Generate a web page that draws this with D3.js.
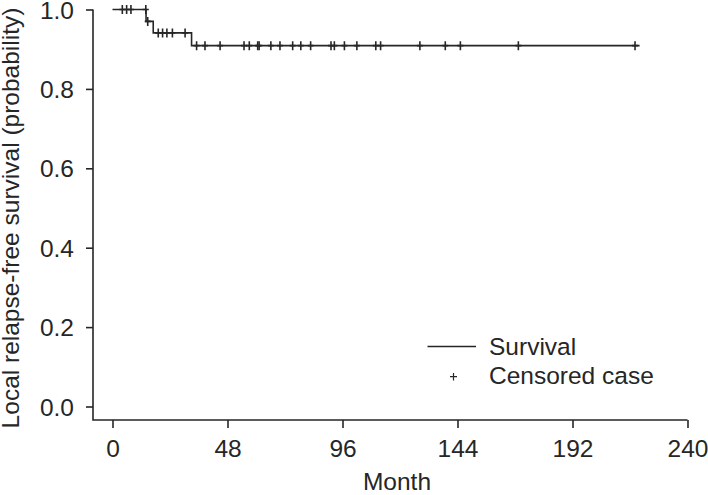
<!DOCTYPE html>
<html>
<head>
<meta charset="utf-8">
<script src="https://cdn.jsdelivr.net/npm/d3@7"></script>
<style>
  html, body { margin: 0; padding: 0; background: #fff; }
  svg { display: block; }
  text { font-family: "Liberation Sans", Arial, Helvetica, sans-serif; fill: #262626; }
</style>
</head>
<body>
<svg id="chart" width="708" height="495"></svg>
<script>
// ---- data ----
const xTicks = [0, 48, 96, 144, 192, 240];
const yTicks = [0.0, 0.2, 0.4, 0.6, 0.8, 1.0];
// survival step function: [month, survival after this time]
const stepTimes = [0, 14.0, 17.0, 33.0];
const stepValues = [1.0, 0.970, 0.941, 0.909];
const lastTime = 220.0;
// censored cases (month)
const censoredTimes = [4.1, 5.9, 7.7, 13.9, 14.7,
  19.1, 20.9, 22.7, 25.0, 30.3,
  35.1, 38.6, 44.9, 54.9, 57.1, 60.6, 61.2, 66.1, 69.9, 75.2, 78.6, 82.7,
  91.2, 92.6, 96.8, 102.0, 109.9, 111.9, 128.3, 138.9, 145.2, 169.4, 218.1];
const xLabel = "Month";
const yLabel = "Local relapse-free survival (probability)";
const legendLabels = ["Survival", "Censored case"];

// ---- layout ----
const svg = d3.select("#chart");
const ink = "#262626";
const fontSize = 24.5;
const axisX0 = 93;      // vertical axis position
const axisY0 = 420;     // horizontal axis position

const x = d3.scaleLinear().domain([0, 240]).range([112.5, 687.5]);
const y = d3.scaleLinear().domain([0, 1]).range([406.5, 9.5]);

// survival value at time t
function survAt(t) {
  let s = stepValues[0];
  for (let i = 0; i < stepTimes.length; i++) if (stepTimes[i] <= t) s = stepValues[i];
  return s;
}

// ---- axes ----
const xAxis = d3.axisBottom(x).tickValues(xTicks).tickFormat(d3.format("d"))
  .tickSize(8).tickSizeOuter(0).tickPadding(12);
const gx = svg.append("g").attr("transform", `translate(0,${axisY0})`).call(xAxis);
gx.select(".domain").remove();

const yAxis = d3.axisLeft(y).tickValues(yTicks).tickFormat(d3.format(".1f"))
  .tickSize(7).tickSizeOuter(0).tickPadding(12);
const gy = svg.append("g").attr("transform", `translate(${axisX0},0)`).call(yAxis);
gy.select(".domain").remove();

[gx, gy].forEach(g => {
  g.selectAll(".tick line").attr("stroke", ink).attr("stroke-width", 1.6);
  g.selectAll(".tick text").attr("font-size", fontSize).attr("fill", ink)
    .style("font-family", '"Liberation Sans", Arial, sans-serif');
});
gy.selectAll(".tick text").attr("dy", "0.35em");

// L-shaped axis lines
svg.append("path")
  .attr("d", `M${axisX0},${y(1)}V${axisY0}H${x(240)}`)
  .attr("fill", "none").attr("stroke", ink).attr("stroke-width", 1.6);

// axis titles
svg.append("text")
  .attr("x", (x(0) + x(240)) / 2 - 3).attr("y", 490)
  .attr("text-anchor", "middle").attr("font-size", fontSize)
  .text(xLabel);

svg.append("text")
  .attr("transform", `translate(19,218) rotate(-90)`)
  .attr("text-anchor", "middle").attr("font-size", fontSize)
  .text(yLabel);

// ---- survival curve ----
const pts = [];
stepTimes.forEach((t, i) => {
  if (i > 0) pts.push([t, stepValues[i - 1]]);
  pts.push([t, stepValues[i]]);
});
pts.push([lastTime, stepValues[stepValues.length - 1]]);

svg.append("path")
  .datum(pts)
  .attr("d", d3.line().x(d => x(d[0])).y(d => y(d[1])))
  .attr("fill", "none").attr("stroke", ink).attr("stroke-width", 1.6);

// censor marks
const m = 4.5;
svg.append("g").selectAll("path")
  .data(censoredTimes)
  .join("path")
  .attr("d", d => {
    const cx = x(d), cy = y(survAt(d));
    return `M${cx},${cy - m}V${cy + m}M${cx - 3},${cy}H${cx + 3}`;
  })
  .attr("stroke", ink).attr("stroke-width", 1.6).attr("fill", "none");

// ---- legend ----
const lg = svg.append("g");
lg.append("line")
  .attr("x1", 427.5).attr("x2", 476).attr("y1", 346.5).attr("y2", 346.5)
  .attr("stroke", ink).attr("stroke-width", 1.6);
lg.append("path")
  .attr("d", `M453.5,373V380.5M450,376.7H457`)
  .attr("stroke", ink).attr("stroke-width", 1.2).attr("fill", "none");
lg.append("text").attr("x", 489).attr("y", 355).attr("font-size", fontSize).text(legendLabels[0]);
lg.append("text").attr("x", 489).attr("y", 384).attr("font-size", fontSize).text(legendLabels[1]);
</script>
</body>
</html>
